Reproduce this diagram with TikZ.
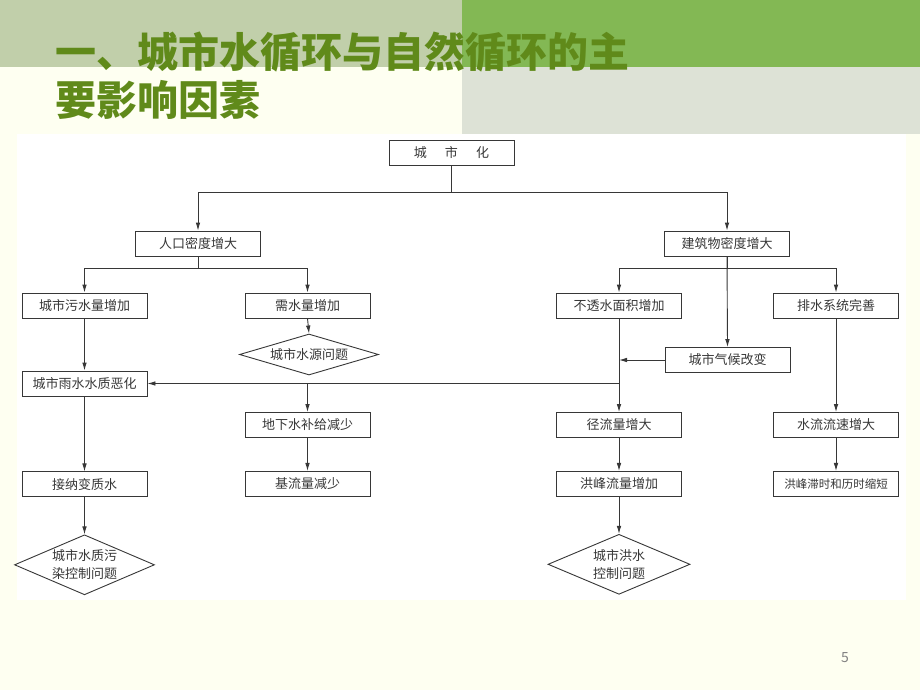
\documentclass[tikz,border=0pt]{standalone}
\usepackage{fontspec}
\setmainfont{Noto Sans CJK SC}
\newfontfamily\cjk{Noto Sans CJK SC}
\usetikzlibrary{positioning,arrows.meta,shapes.geometric}
\definecolor{bandgray}{RGB}{193,207,170}
\definecolor{bandgreen}{RGB}{131,184,84}
\definecolor{panelgray}{RGB}{221,226,214}
\definecolor{creambg}{RGB}{254,255,241}
\definecolor{titlegreen}{RGB}{96,138,26}
\definecolor{linegray}{RGB}{55,55,55}
\definecolor{textgray}{RGB}{55,55,55}
\definecolor{numgray}{RGB}{130,130,130}
\tikzstyle{pbox}=[rectangle, draw=linegray, line width=0.9pt, fill=white
, minimum width=125pt, minimum height=25pt, inner sep=0pt, text=textgray
, font=\cjk\fontsize{13}{16}\selectfont]
\tikzstyle{dbox}=[diamond, draw=linegray, line width=0.9pt, fill=white, inner sep=0pt
, align=center, text=textgray, font=\cjk\fontsize{13}{18}\selectfont]
\tikzstyle{ttext}=[inner sep=0pt, text=titlegreen, font=\cjk\bfseries\fontsize{41}{48}\selectfont]
\tikzstyle{fline}=[-{Latex[length=8pt,width=4.6pt]}, line width=0.9pt, linegray]

\begin{document}
\begin{tikzpicture}[x=1pt,y=1pt]

% background
    \fill[creambg] (0,0) rectangle (920,-690);
    \fill[bandgray] (0,0) rectangle (462,-67);
    \fill[bandgreen] (462,0) rectangle (920,-67);
    \fill[panelgray] (462,-67) rectangle (920,-134);
    \fill[white] (17,-134) rectangle (906,-600);
    \useasboundingbox (0,0) rectangle (920,-690);

    \node (t1) [ttext, anchor=west] at (55,-52) {一、城市水循环与自然循环的主};
    \node (t2) [ttext, anchor=west] at (55,-100) {要影响因素};

    \node (city) [pbox] at (451.5,-152.5) {城\hspace{1.4em}市\hspace{1.4em}化};

    \node (pop) [pbox] at (198,-243.5) {人口密度增大};
    \node (bld) [pbox] at (727,-243.5) {建筑物密度增大};

    \node (sewage) [pbox] at (84.5,-305.5) {城市污水量增加};
    \node (demand) [pbox] at (307.5,-305.5) {需水量增加};
    \node (imperv) [pbox] at (619,-305.5) {不透水面积增加};
    \node (drain) [pbox] at (836,-305.5) {排水系统完善};

    \node (waterres) [dbox, minimum width=139pt, minimum height=41pt, aspect=3.4] at (309,-354.5) {城市水源问题};
    \node (climate) [pbox] at (727.5,-360) {城市气候改变};
    \node (rainq) [pbox] at (84.5,-383.5) {城市雨水水质恶化};

    \node (gw) [pbox] at (307.5,-425) {地下水补给减少};
    \node (runoff) [pbox] at (619,-425) {径流量增大};
    \node (velo) [pbox] at (836,-425) {水流流速增大};

    \node (accept) [pbox, below=75pt of rainq] {接纳变质水};
    \node (base) [pbox, below=33pt of gw] {基流量减少};
    \node (peak) [pbox, below=33pt of runoff] {洪峰流量增加};
    \node (lag) [pbox, below=33pt of velo, font=\cjk\fontsize{11.5}{14}\selectfont] {洪峰滞时和历时缩短};

    \node (qualprob) [dbox, below=37pt of accept, minimum width=140pt, minimum height=60pt, aspect=2.3] {城市水质污\\染控制问题};
    \node (flood) [dbox, below=37pt of peak, minimum width=142pt, minimum height=60pt, aspect=2.3] {城市洪水\\控制问题};

    \node (pnum) [text=numgray, font=\cjk\fontsize{14}{16}\selectfont] at (845,-658) {5};

% lines
   \draw[fline] (city.south) -- ++(0,-27) -| (pop.north);
   \draw[fline] (city.south) -- ++(0,-27) -| (bld.north);

   \draw[fline] (pop.south) -- ++(0,-12) -| (sewage.north);
   \draw[fline] (pop.south) -- ++(0,-12) -| (demand.north);

   \draw[fline] (bld.south) -- ++(0,-12) -| (imperv.north);
   \draw[fline] (bld.south) -- ++(0,-12) -| (drain.north);
   \draw[fline] (bld.south) -- (climate.north);

   \draw[fline] (demand.south) -- (waterres.north);
   \draw[fline] (sewage.south) -- (rainq.north);
   \draw[fline] (imperv.south) -- (runoff.north);
   \draw[fline] (drain.south) -- (velo.north);

% joins on the runoff line
   \coordinate (cj) at (imperv.south |- climate.west);
   \coordinate (rj) at (imperv.south |- rainq.east);
   \coordinate (gj) at (gw.north |- rainq.east);
   \draw[fline] (climate.west) -- (cj);
   \draw[fline] (rj) -- (rainq.east);
   \draw[fline] (gj) -- (gw.north);

   \draw[fline] (gw.south) -- (base.north);
   \draw[fline] (rainq.south) -- (accept.north);
   \draw[fline] (accept.south) -- (qualprob.north);
   \draw[fline] (runoff.south) -- (peak.north);
   \draw[fline] (peak.south) -- (flood.north);
   \draw[fline] (velo.south) -- (lag.north);
\end{tikzpicture}
\end{document}
